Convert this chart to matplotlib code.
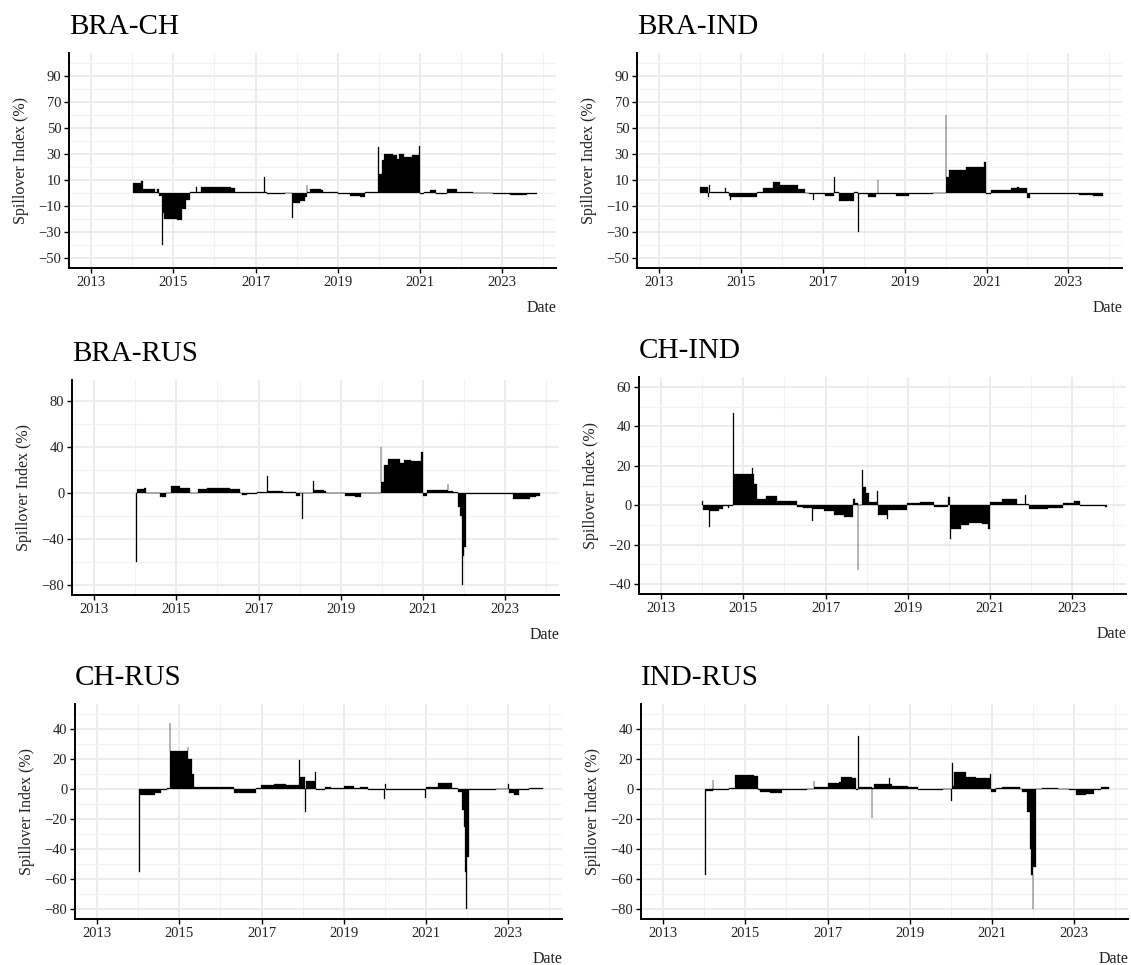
import numpy as np
import matplotlib.pyplot as plt
from matplotlib.ticker import FixedLocator

plt.rcParams['font.family'] = ['Liberation Serif', 'DejaVu Serif']

# spillover index step data: (decimal year, value %)
bra_ch = [(2014.02, 7.5), (2014.20, 9.5), (2014.26, 3), (2014.55, 1), (2014.60, 3), (2014.66, -2),
          (2014.72, -40), (2014.74, -15), (2014.78, -20), (2015.10, -21), (2015.22, -12), (2015.30, -5),
          (2015.40, 0.5), (2015.55, 5), (2015.57, 0.5), (2015.67, 4.5), (2016.00, 5), (2016.40, 4),
          (2016.51, 1), (2017.20, 12), (2017.22, 0.5), (2017.27, -1), (2017.71, 0.3), (2017.89, -19),
          (2017.91, -8), (2018.08, -6), (2018.20, -3), (2018.24, 6), (2018.26, 0.5), (2018.33, 3),
          (2018.60, 2), (2018.64, 0.5), (2019.00, -1), (2019.30, -2), (2019.55, -3), (2019.67, 1),
          (2019.99, 35), (2020.01, 15), (2020.08, 25), (2020.13, 30), (2020.35, 29), (2020.45, 26),
          (2020.50, 30), (2020.60, 28), (2020.80, 29), (2020.97, 36), (2021.00, -1), (2021.10, 1),
          (2021.25, 2), (2021.38, -1), (2021.65, 3), (2021.90, 1), (2022.00, 0.5), (2022.30, 0.3),
          (2022.78, -1), (2023.20, -1.5), (2023.60, -1), (2023.85, 0)]

bra_ind = [(2014.01, 5), (2014.20, -3), (2014.22, 6), (2014.25, 1), (2014.60, 4), (2014.63, 1),
           (2014.70, -2), (2014.74, -5), (2014.76, -3), (2015.40, 1), (2015.55, 4), (2015.78, 8.5),
           (2015.95, 6.5), (2016.39, 3), (2016.57, 0.3), (2016.66, -1), (2016.76, -5), (2016.78, -1),
           (2017.05, -2), (2017.27, 12), (2017.29, 0.5), (2017.40, -6), (2017.76, 1), (2017.86, -30),
           (2017.88, -1), (2018.10, -3), (2018.30, -1), (2018.34, 10), (2018.36, -1), (2018.80, -2),
           (2019.10, -0.5), (2019.50, -1), (2019.70, -0.3), (2020.00, 60), (2020.02, 12), (2020.08, 18),
           (2020.50, 20), (2020.95, 24), (2020.98, -1), (2021.12, 2), (2021.60, 4), (2021.75, 5),
           (2021.80, 4), (2021.98, -4), (2022.07, -0.5), (2023.25, -1.5), (2023.60, -2), (2023.85, 0)]

bra_rus = [(2014.01, -60), (2014.03, 3.5), (2014.20, 5), (2014.26, 0.3), (2014.60, -3), (2014.74, 0.5),
           (2014.86, 6), (2015.10, 5), (2015.32, 0.5), (2015.53, 4), (2015.75, 5), (2016.30, 4),
           (2016.55, 0.3), (2016.60, -1.5), (2016.73, -0.3), (2016.95, 1.5), (2017.20, 15), (2017.22, 2),
           (2017.60, 1.5), (2017.90, -2), (2018.00, 0.3), (2018.06, -22), (2018.08, 0.5), (2018.32, 11),
           (2018.34, 3), (2018.60, 2), (2018.64, 0.5), (2019.10, -2), (2019.35, -3), (2019.50, 0.5),
           (2019.97, 40), (2019.99, 10), (2020.05, 25), (2020.14, 30), (2020.45, 26), (2020.55, 29),
           (2020.70, 28), (2020.96, 36), (2020.99, -2), (2021.10, 3), (2021.60, 8), (2021.62, 2),
           (2021.72, 1), (2021.86, -12), (2021.90, -20), (2021.94, -57), (2021.96, -80), (2021.98, -55),
           (2022.01, -47), (2022.05, -0.3), (2022.85, -1), (2023.20, -5), (2023.60, -3), (2023.75, -2),
           (2023.85, 0)]

ch_ind = [(2014.00, 2), (2014.02, -2.5), (2014.17, -11), (2014.19, -3), (2014.40, -2), (2014.50, -0.5),
          (2014.62, -1.5), (2014.66, -0.3), (2014.75, 47), (2014.77, 16), (2015.22, 19), (2015.24, 16),
          (2015.26, 11), (2015.33, 3), (2015.55, 4.5), (2015.82, 2), (2016.30, -1), (2016.45, -1.5),
          (2016.68, -8), (2016.70, -2), (2016.95, -3), (2017.20, -5), (2017.45, -6), (2017.66, 3),
          (2017.72, 1), (2017.78, -33), (2017.80, 0.3), (2017.89, 18), (2017.91, 9), (2017.98, 6),
          (2018.05, 1.5), (2018.25, 7), (2018.28, -5), (2018.50, -7), (2018.52, -2.5), (2018.97, 1),
          (2019.30, 1.8), (2019.63, -1), (2019.98, 4), (2020.02, -17), (2020.05, -12), (2020.30, -10),
          (2020.50, -9), (2020.80, -9.5), (2020.95, -12), (2021.00, 1.5), (2021.30, 3), (2021.65, 0.5),
          (2021.85, 5), (2021.87, 0.5), (2021.95, -2), (2022.40, -1.5), (2022.78, 1), (2023.05, 2),
          (2023.18, -0.5), (2023.79, -1), (2023.85, 0)]

ch_rus = [(2014.02, -55), (2014.04, -4), (2014.40, -3), (2014.55, -1), (2014.70, 0.3), (2014.76, 44),
          (2014.78, 25), (2015.20, 28), (2015.22, 20), (2015.30, 10), (2015.36, 1.5), (2015.80, 1),
          (2016.33, -2.5), (2016.86, 0.5), (2016.99, 2.5), (2017.30, 3.3), (2017.60, 2.5), (2017.92, 19),
          (2017.94, 8), (2018.05, -15), (2018.07, 5), (2018.30, 11), (2018.32, -1), (2018.55, 1.5),
          (2018.70, 0.5), (2019.00, 2), (2019.25, 0.5), (2019.40, 1.5), (2019.60, -0.5), (2019.99, -7),
          (2020.01, 3), (2020.03, -1), (2020.97, -6), (2020.99, 1), (2021.30, 4), (2021.63, 0.3),
          (2021.78, -2), (2021.88, -14), (2021.92, -25), (2021.95, -55), (2021.97, -80), (2021.99, -45),
          (2022.04, -1), (2022.70, -0.3), (2023.00, 3), (2023.02, -3), (2023.15, -4), (2023.27, -1),
          (2023.50, 0.5), (2023.85, 0)]

ind_rus = [(2014.02, -57), (2014.04, -1.5), (2014.20, 6), (2014.22, -1), (2014.60, 0.3), (2014.74, 9),
           (2015.20, 8.5), (2015.31, -0.5), (2015.36, -2), (2015.60, -3), (2015.88, -1), (2016.50, -0.3),
           (2016.66, 5), (2016.68, 1.5), (2017.02, 4), (2017.29, 4.5), (2017.33, 8), (2017.60, 7.5),
           (2017.68, -1), (2017.75, 35), (2017.77, 1), (2018.07, -19), (2018.09, 0.5), (2018.12, 3.5),
           (2018.50, 7), (2018.52, 3), (2018.56, 2), (2018.96, 1), (2019.20, -0.5), (2019.50, -1),
           (2019.80, -0.3), (2020.00, -8), (2020.02, 17), (2020.04, 2), (2020.08, 11), (2020.36, 8),
           (2020.60, 7), (2020.95, 10), (2020.98, -2), (2021.11, 0.3), (2021.24, 1), (2021.68, -0.3),
           (2021.72, -2), (2021.86, -15), (2021.92, -40), (2021.96, -57), (2021.99, -80), (2022.01, -52),
           (2022.07, -0.3), (2022.21, 0.5), (2022.60, 0.2), (2022.88, -0.5), (2023.04, -4), (2023.30, -3.5),
           (2023.48, -1), (2023.65, 1), (2023.85, 0)]

names = ['BRA-CH', 'BRA-IND', 'BRA-RUS', 'CH-IND', 'CH-RUS', 'IND-RUS']
series = [bra_ch, bra_ind, bra_rus, ch_ind, ch_rus, ind_rus]
x_ticks = [2013, 2015, 2017, 2019, 2021, 2023]
x_minor = [2014, 2016, 2018, 2020, 2022, 2024]
y_major = [list(range(-50, 91, 20)), list(range(-50, 91, 20)), [-80, -40, 0, 40, 80],
           list(range(-40, 61, 20)), list(range(-80, 41, 20)), list(range(-80, 41, 20))]
y_minor = [list(range(-40, 101, 20)), list(range(-40, 101, 20)), [-60, -20, 20, 60],
           list(range(-30, 51, 20)), list(range(-70, 51, 20)), list(range(-70, 51, 20))]
y_lims = [(-57.5, 107.5), (-57.5, 107.5), (-88.5, 98.5), (-45, 65), (-86.5, 56.5), (-86.5, 56.5)]

W, H = 1131, 965
# axes boxes in pixels: left, top, right, bottom
boxes = [(69, 53, 556, 268), (637, 53, 1122, 268),
         (72, 380, 559, 595), (639, 377, 1126, 594),
         (75, 704, 562, 919), (641, 704, 1128, 919)]

fig = plt.figure(figsize=(W / 100, H / 100), dpi=100)

for name, data, ymaj, ymin, ylim, box in zip(names, series, y_major, y_minor, y_lims, boxes):
    l, t, r, b = box
    ax = fig.add_axes([l / W, 1 - b / H, (r - l) / W, (b - t) / H])
    d = np.array(data)
    ax.fill_between(d[:, 0], d[:, 1], 0, step='post', color='black', lw=0.2)

    ax.set_xlim(2012.46, 2024.31)
    ax.set_ylim(*ylim)
    ax.xaxis.set_major_locator(FixedLocator(x_ticks))
    ax.xaxis.set_minor_locator(FixedLocator(x_minor))
    ax.yaxis.set_major_locator(FixedLocator(ymaj))
    ax.yaxis.set_minor_locator(FixedLocator(ymin))
    ax.grid(which='major', color='#EBEBEB', lw=1.3)
    ax.grid(which='minor', color='#F2F2F2', lw=0.8)
    ax.set_axisbelow(True)

    for s in ['top', 'right']:
        ax.spines[s].set_visible(False)
    for s in ['left', 'bottom']:
        ax.spines[s].set_color('black')
        ax.spines[s].set_linewidth(1.4)
    ax.tick_params(which='major', length=3.5, width=1.0, colors='black', labelsize=10.5, pad=2,
                   labelcolor='#222222')
    ax.tick_params(which='minor', length=0)

    ax.set_title(name, loc='left', fontsize=21, pad=13.5)
    ax.set_ylabel('Spillover Index (%)', fontsize=11.5, color='#222222')
    ax.yaxis.set_label_coords(-40 / (r - l), 0.5)
    ax.text(1, -40 / (b - t), 'Date', transform=ax.transAxes, ha='right', va='center',
            fontsize=11.5, color='#222222')

fig.savefig('out.png', dpi=100)
